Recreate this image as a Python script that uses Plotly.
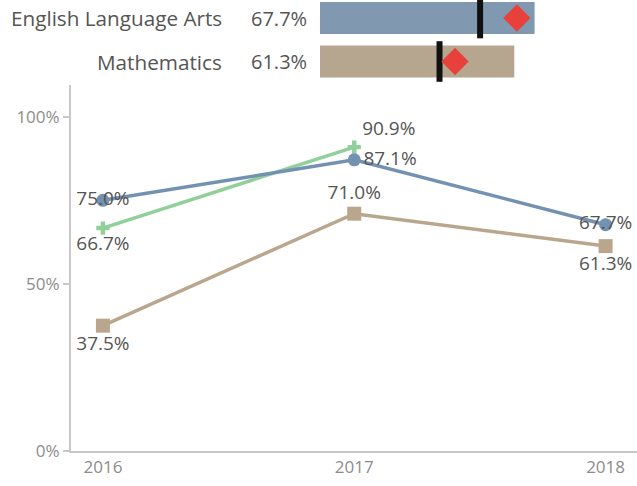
import plotly.graph_objects as go

# ---------------- data ----------------
years = ["2016", "2017", "2018"]
ela_values = [75.0, 87.1, 67.7]
math_values = [37.5, 71.0, 61.3]
green_values = [66.7, 90.9, None]

subjects = ["English Language Arts", "Mathematics"]
current_values = [67.7, 61.3]
black_reference = [50.5, 37.7]
red_target = [62.1, 42.6]

y_tick_values = [0, 50, 100]
y_tick_labels = ["0%", "50%", "100%"]

# ---------------- styles ----------------
FONT = "Open Sans"
BLUE_BAR = "#8099b1"
TAN_BAR = "#b6a68f"
BLUE_LINE = "#7391b0"
TAN_LINE = "#b9a68d"
GREEN_LINE = "#91cf9b"
RED = "#e8413b"
TEXT = "#555555"
AXIS = "#c8c8c8"
TICKTEXT = "#8c8c8c"

def fmt(v):
    return "" if v is None else f"{v:.1f}%"

fig = go.Figure()

# ---- line chart ----
fig.add_trace(go.Scatter(
    x=years, y=math_values, mode="lines+markers+text", name="Mathematics",
    line=dict(color=TAN_LINE, width=3.5),
    marker=dict(symbol="square", size=14, color=TAN_LINE),
    text=[fmt(v) for v in math_values],
    textposition=["bottom center", "top center", "bottom center"],
    textfont=dict(family=FONT, size=19, color=TEXT),
    hoverinfo="skip", showlegend=False, cliponaxis=False,
))
fig.add_trace(go.Scatter(
    x=years, y=green_values, mode="lines+markers+text", name="Group 3",
    line=dict(color=GREEN_LINE, width=3.5),
    marker=dict(symbol="cross", size=11, color=GREEN_LINE),
    text=[fmt(v) for v in green_values],
    textposition=["bottom center", "top right", "top center"],
    textfont=dict(family=FONT, size=19, color=TEXT),
    hoverinfo="skip", showlegend=False, cliponaxis=False, connectgaps=False,
))
fig.add_trace(go.Scatter(
    x=years, y=ela_values, mode="lines+markers+text", name="English Language Arts",
    line=dict(color=BLUE_LINE, width=3.5),
    marker=dict(symbol="circle", size=13, color=BLUE_LINE),
    text=[fmt(v) for v in ela_values],
    textposition=["middle center", "middle right", "middle center"],
    textfont=dict(family=FONT, size=19, color=TEXT),
    hoverinfo="skip", showlegend=False, cliponaxis=False,
))

# ---- bullet chart ----
fig.add_trace(go.Bar(
    x=current_values, y=subjects, orientation="h", width=0.736,
    marker=dict(color=[BLUE_BAR, TAN_BAR], line=dict(width=0)),
    xaxis="x2", yaxis="y2", hoverinfo="skip", showlegend=False,
))
fig.add_trace(go.Scatter(
    x=black_reference, y=subjects, mode="markers",
    marker=dict(symbol="line-ns", size=29, line=dict(color="#111111", width=6)),
    xaxis="x2", yaxis="y2", hoverinfo="skip", showlegend=False, cliponaxis=False,
))
fig.add_trace(go.Scatter(
    x=red_target, y=subjects, mode="markers",
    marker=dict(symbol="diamond", size=21, color=RED, line=dict(width=0)),
    xaxis="x2", yaxis="y2", hoverinfo="skip", showlegend=False, cliponaxis=False,
))

annotations = []
for s, v in zip(subjects, current_values):
    annotations.append(dict(
        x=224 / 637, y=s, xref="paper", yref="y2", text=s, showarrow=False,
        xanchor="right", yanchor="middle",
        font=dict(family=FONT, size=20.7, color=TEXT)))
    annotations.append(dict(
        x=309 / 637, y=s, xref="paper", yref="y2", text=fmt(v), showarrow=False,
        xanchor="right", yanchor="middle",
        font=dict(family=FONT, size=20, color=TEXT)))

fig.update_layout(
    width=637, height=486,
    margin=dict(l=0, r=0, t=0, b=0),
    paper_bgcolor="white", plot_bgcolor="white",
    font=dict(family=FONT, color=TEXT),
    showlegend=False,
    annotations=annotations,
    xaxis=dict(
        domain=[71 / 637, 1], type="category", range=[-0.127, 2.125],
        showline=True, linecolor=AXIS, linewidth=2,
        showgrid=False, zeroline=False, ticks="",
        tickfont=dict(family=FONT, size=17, color=TICKTEXT),
        automargin=False,
    ),
    yaxis=dict(
        domain=[(486 - 451) / 486, (486 - 85) / 486], range=[0, 109.5],
        showline=True, linecolor=AXIS, linewidth=2,
        ticks="outside", ticklen=6, tickcolor=AXIS, tickwidth=1.5,
        tickvals=y_tick_values, ticktext=y_tick_labels,
        showgrid=False, zeroline=False,
        tickfont=dict(family=FONT, size=17, color=TICKTEXT),
        automargin=False,
    ),
    xaxis2=dict(
        domain=[320 / 637, 1], range=[0, 100], anchor="y2",
        visible=False, showgrid=False, zeroline=False,
    ),
    yaxis2=dict(
        domain=[1 - 84 / 486, 1], anchor="x2",
        type="category", categoryorder="array",
        categoryarray=list(reversed(subjects)),
        range=[-0.517, 1.414],
        visible=False, showgrid=False, zeroline=False,
    ),
)

fig.write_html(
    "out.html",
    config={"displayModeBar": False},
    post_script="document.body.style.margin='0px';",
)
